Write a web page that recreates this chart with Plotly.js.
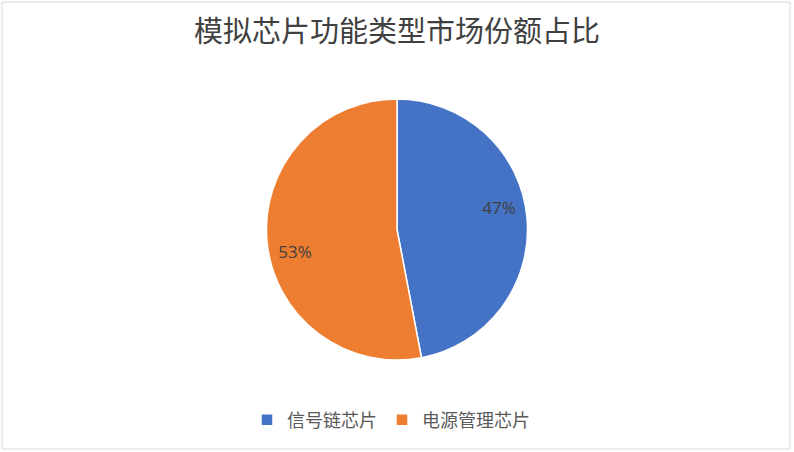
<!DOCTYPE html>
<html>
<head>
<meta charset="utf-8">
<script src="https://cdn.plot.ly/plotly-3.0.1.min.js"></script>
<style>
  html, body { margin: 0; padding: 0; background: #fff; }
  #chart { width: 794px; height: 452px; }
</style>
</head>
<body>
<div id="chart"></div>
<script>
const categories = ['信号链芯片', '电源管理芯片'];
const shares = [47, 53];
const sliceColors = ['#4472C4', '#ED7D31'];

const pieDomain = { x: [0, 1], y: [0.2035, 0.781] };

// the filled slices
const slices = {
  type: 'pie',
  labels: categories,
  values: shares,
  sort: false,
  direction: 'clockwise',
  rotation: 0,
  marker: {
    colors: sliceColors,
    line: { color: '#ffffff', width: 1.5 }
  },
  textinfo: 'none',
  hoverinfo: 'none',
  domain: pieDomain
};

// transparent ring on top, only to push the percent labels out toward the rim
// (turned a little so the labels sit where Excel put them)
const labelRing = {
  type: 'pie',
  labels: categories,
  values: shares,
  sort: false,
  direction: 'clockwise',
  rotation: -7,
  hole: 0.6,
  showlegend: false,
  marker: {
    colors: ['rgba(0,0,0,0)', 'rgba(0,0,0,0)'],
    line: { width: 0 }
  },
  textinfo: 'percent',
  texttemplate: '%{percent:.0%}',
  textposition: 'inside',
  insidetextorientation: 'horizontal',
  textfont: { family: 'Open Sans, Noto Sans CJK SC', size: 17, color: '#404040' },
  hoverinfo: 'none',
  domain: pieDomain
};

const layout = {
  width: 794,
  height: 452,
  margin: { l: 0, r: 0, t: 0, b: 0, pad: 0 },
  paper_bgcolor: '#ffffff',
  title: {
    text: '模拟芯片功能类型市场份额占比',
    font: { family: 'Noto Sans CJK SC', size: 29, color: '#404040' },
    x: 0.5,
    xanchor: 'center',
    y: 1 - 32 / 452,
    yanchor: 'middle'
  },
  showlegend: true,
  legend: {
    orientation: 'h',
    x: 0.5 - 6 / 794,
    xanchor: 'center',
    y: 1 - 420 / 452,
    yanchor: 'middle',
    font: { family: 'Noto Sans CJK SC', size: 18, color: '#595959' },
    itemwidth: 30,
    traceorder: 'normal'
  },
  shapes: [
    {
      type: 'rect', xref: 'paper', yref: 'paper',
      x0: 2 / 794, x1: 790 / 794, y0: 1 - 449 / 452, y1: 1 - 2 / 452,
      line: { color: '#d9d9d9', width: 1 }
    }
  ]
};

Plotly.newPlot('chart', [slices, labelRing], layout, { displayModeBar: false, staticPlot: true });
</script>
</body>
</html>
